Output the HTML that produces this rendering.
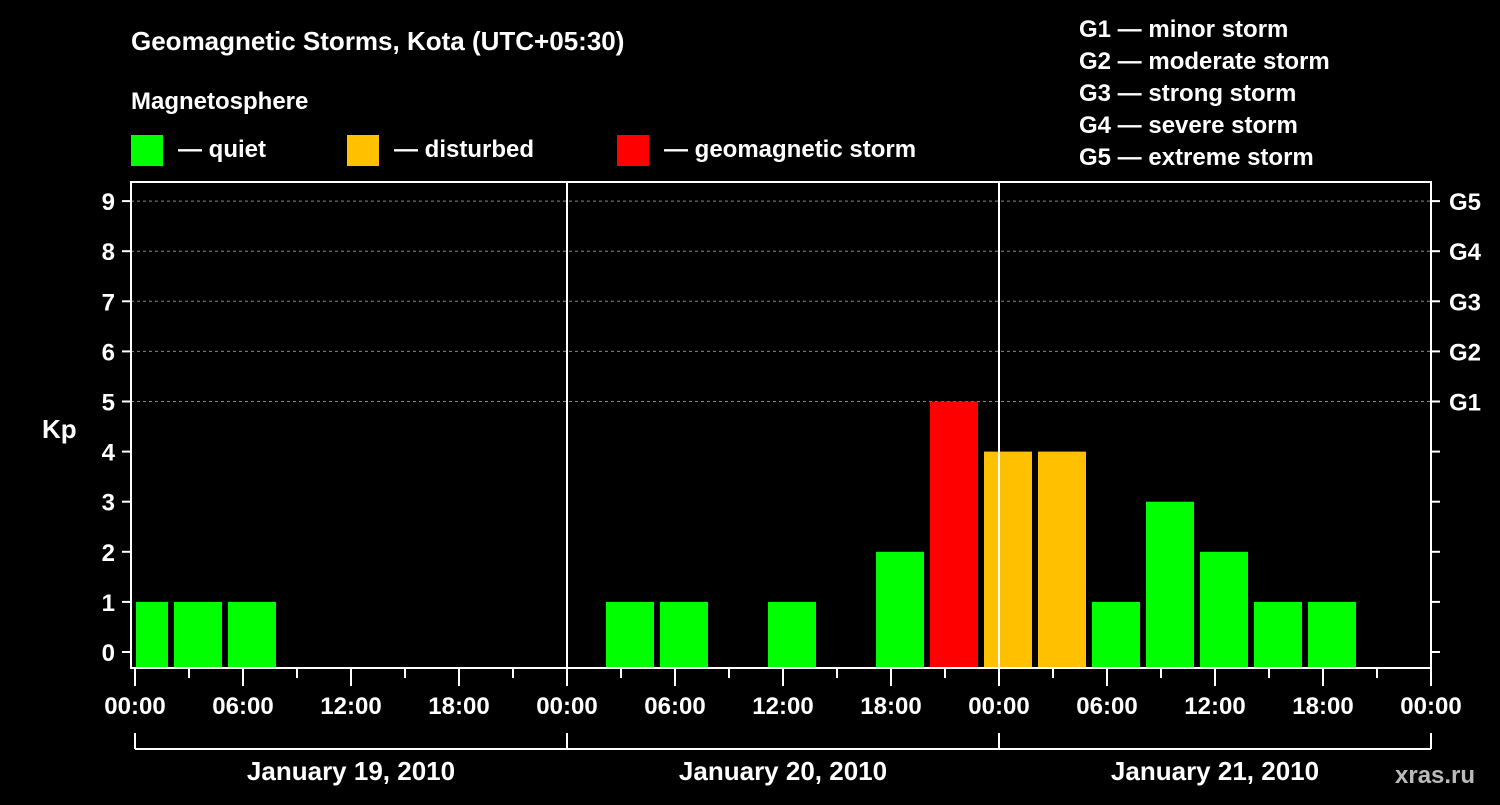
<!DOCTYPE html>
<html><head><meta charset="utf-8"><style>
body{margin:0;background:#000;width:1500px;height:800px;overflow:hidden;font-family:"Liberation Sans",sans-serif}
svg text{font-family:"Liberation Sans",sans-serif;font-weight:bold;fill:#fff}
</style></head><body>
<svg id="c" width="1500" height="800">
<text x="131" y="50" font-size="26">Geomagnetic Storms, Kota (UTC+05:30)</text>
<text x="131" y="109" font-size="24">Magnetosphere</text>
<rect x="131" y="135" width="32" height="31" fill="#00ff00"/>
<text x="178" y="157" font-size="24">— quiet</text>
<rect x="347" y="135" width="32" height="31" fill="#ffc000"/>
<text x="394" y="157" font-size="24">— disturbed</text>
<rect x="617" y="135" width="32" height="31" fill="#ff0000"/>
<text x="664" y="157" font-size="24">— geomagnetic storm</text>
<g font-size="24">
<text x="1079" y="37">G1 — minor storm</text>
<text x="1079" y="69">G2 — moderate storm</text>
<text x="1079" y="101">G3 — strong storm</text>
<text x="1079" y="133">G4 — severe storm</text>
<text x="1079" y="165">G5 — extreme storm</text>
</g>
<text x="42" y="438" font-size="26">Kp</text>
<text x="1395" y="783" font-size="24" fill="#bbb" style="fill:#bbb">xras.ru</text>
<g id="grid"></g><g id="bars"></g><g id="axes"></g>
</svg>
<script>
const slotIndex=[-1,0,1,8,9,11,13,14,15,16,17,18,19,20,21];
const kpValues=[1,1,1,1,1,1,2,5,4,4,1,3,2,1,1];
const yTicks=[0,1,2,3,4,5,6,7,8,9];
const gLabels=["G1","G2","G3","G4","G5"];
const timeLabels=["00:00","06:00","12:00","18:00","00:00","06:00","12:00","18:00","00:00","06:00","12:00","18:00","00:00"];
const dayLabels=["January 19, 2010","January 20, 2010","January 21, 2010"];
const NS="http://www.w3.org/2000/svg";
const L=131,R=1431,T=182,B=668,X0=135,H3=54;
const y=v=>652-v*50.1;
const xh=h=>X0+h*18;
function mk(p,t,a){const e=document.createElementNS(NS,t);for(const k in a)e.setAttribute(k,a[k]);p.appendChild(e);return e;}
const grid=document.getElementById('grid'),bars=document.getElementById('bars'),ax=document.getElementById('axes');
yTicks.forEach(v=>{if(v>=5){const l=mk(grid,'line',{x1:L,x2:R,y1:y(v),y2:y(v),stroke:'#888','stroke-dasharray':'3,3'});

}
const t=mk(ax,'line',{x1:L-9,x2:L,y1:y(v),y2:y(v),stroke:'#fff','stroke-width':2});
const t2=mk(ax,'line',{x1:R,x2:R+9,y1:y(v),y2:y(v),stroke:'#fff','stroke-width':2});
const tx=mk(ax,'text',{x:L-16,y:y(v)+9,'font-size':24,'text-anchor':'end'});tx.textContent=v;


if(v>=5){const g=mk(ax,'text',{x:R+18,y:y(v)+9,'font-size':24});g.textContent=gLabels[v-5];

}});
slotIndex.forEach((k,i)=>{const v=kpValues[i];let x=xh(k*3)+39,w=48;if(x<L+5){w-= (L+5-x);x=L+5;}
const top=y(v);const r=mk(bars,'rect',{x:x,y:top,width:w,height:B-top,fill:v>=5?'#ff0000':v>=4?'#ffc000':'#00ff00'});

});
[567,999].forEach(x=>{mk(ax,'line',{x1:x,x2:x,y1:T,y2:B,stroke:'#fff','stroke-width':2});});
mk(ax,'rect',{x:L,y:T,width:R-L,height:B-T,fill:'none',stroke:'#fff','stroke-width':2});
for(let i=0;i<=24;i++){const x=xh(i*3);mk(ax,'line',{x1:x,x2:x,y1:B,y2:i%2?678:686,stroke:'#fff','stroke-width':2});}
timeLabels.forEach((s,i)=>{const t=mk(ax,'text',{x:xh(i*6),y:714,'font-size':24,'text-anchor':'middle'});t.textContent=s;

});
mk(ax,'line',{x1:X0,x2:xh(72),y1:749,y2:749,stroke:'#fff','stroke-width':2});
[0,24,48,72].forEach(h=>mk(ax,'line',{x1:xh(h),x2:xh(h),y1:733,y2:749,stroke:'#fff','stroke-width':2}));
dayLabels.forEach((s,i)=>{const t=mk(ax,'text',{x:xh(i*24+12),y:780,'font-size':26,'text-anchor':'middle'});t.textContent=s;

});
</script>
</body></html>
